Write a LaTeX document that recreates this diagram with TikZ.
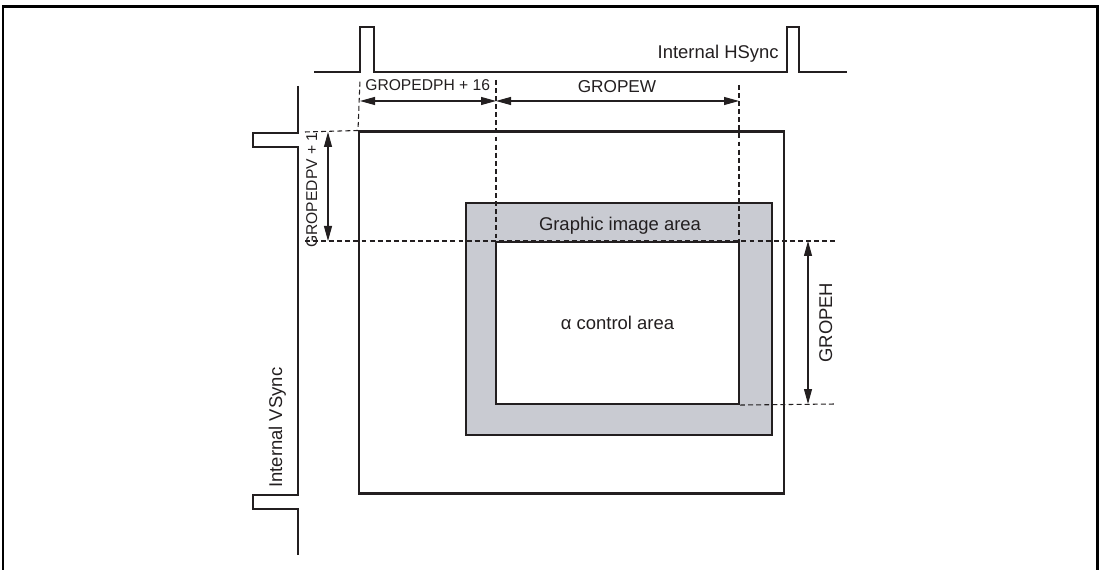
\documentclass[tikz,border=0pt]{standalone}
\usepackage{fontspec}
\setmainfont{Liberation Sans}
\usetikzlibrary{positioning, arrows.meta, calc}
\definecolor{areagray}{HTML}{C9CBD2}
\definecolor{ink}{HTML}{231F20}
\tikzset{
  sig/.style    = {draw=ink, line width=1.2pt, line join=miter},
  region/.style = {rectangle, draw=ink, line width=1.2pt, inner sep=0pt},
  guide/.style  = {draw=ink, line width=0.6pt, dash pattern=on 2.8pt off 1.8pt},
  dim/.style    = {{Triangle[length=3mm,width=1.6mm]}-{Triangle[length=3mm,width=1.6mm]},
                   draw=ink, line width=0.6pt},
  lbl/.style    = {font=\fontsize{10.5}{12}\selectfont, text=ink, inner sep=0pt},
  small/.style  = {font=\fontsize{8.9}{10}\selectfont},
}

\begin{document}
\begin{tikzpicture}[x=0.02cm, y=-0.02cm]

  \useasboundingbox (0,0) rectangle (1101,570);
  \draw[line width=1.7pt] (3,572) -- (3,7) -- (1097,7) -- (1097,572);

  % sync signals
  \draw[sig] (314,72) -- (360,72) -- (360,27) -- (374,27) -- (374,72)
             -- (787,72) -- (787,27) -- (799,27) -- (799,72) -- (847,72);
  \node[lbl, anchor=base east] (hsync) at (779,59) {Internal HSync};

  \draw[sig] (298,86) -- (298,133) -- (253,133) -- (253,147) -- (298,147)
             -- (298,495) -- (253,495) -- (253,509) -- (298,509) -- (298,555);
  \node[lbl, rotate=90, anchor=base west] (vsync) at (282,488) {Internal VSync};

  % areas
  \node[region, minimum width=8.5cm, minimum height=7.24cm] (screen) at (571.5,312.5) {};
  \node[region, fill=areagray, minimum width=6.12cm, minimum height=4.64cm] (image) at (619,319) {};
  \node[lbl, anchor=base] (imagetxt) at (620,231) {Graphic image area};

  % guide lines
  \coordinate (gL) at (305,132);
  \coordinate (gA) at (305,241);
  \coordinate (gB) at (835,241);
  \coordinate (gC) at (835,404);
  \coordinate (tL) at (360,80);
  \coordinate (tM) at (496,80);
  \coordinate (tR) at (739,85);
  \draw[guide] (gL) -- (screen.north west) -- (tL);
  \draw[guide] (gA) -- (gB);
  \draw[guide] (tM) -- (496,241);
  \draw[guide] (tR) -- (739,241);

  \node[region, fill=white, minimum width=4.86cm, minimum height=3.24cm] (alpha) at (617.5,323) {};
  \node[lbl] (alphatxt) at (alpha.center) {α control area};
  \draw[guide] (alpha.south east) -- (gC);

  % dimensions
  \coordinate (dphL) at (360,101);
  \coordinate (dphR) at (496,101);
  \coordinate (dwR) at (739,101);
  \draw[dim] (dphL) -- (dphR);
  \draw[dim] (dphR) -- (dwR);
  \node[lbl, small, anchor=base west] (dphtxt) at (365,91) {GROPEDPH + 16};
  \node[lbl, font=\fontsize{9.8}{11}\selectfont, anchor=base] (dwtxt) at (617,93) {GROPEW};

  \coordinate (dpvT) at (328,132);
  \coordinate (dpvB) at (328,241);
  \draw[dim] (dpvT) -- (dpvB);
  \node[lbl, small, rotate=90, anchor=base west] (dpvtxt) at (317,248) {GROPEDPV + 1};

  \coordinate (dhT) at (808,241);
  \coordinate (dhB) at (808,404);
  \draw[dim] (dhT) -- (dhB);
  \node[lbl, rotate=90, anchor=base west] (dhtxt) at (832,363) {GROPEH};

\end{tikzpicture}
\end{document}
